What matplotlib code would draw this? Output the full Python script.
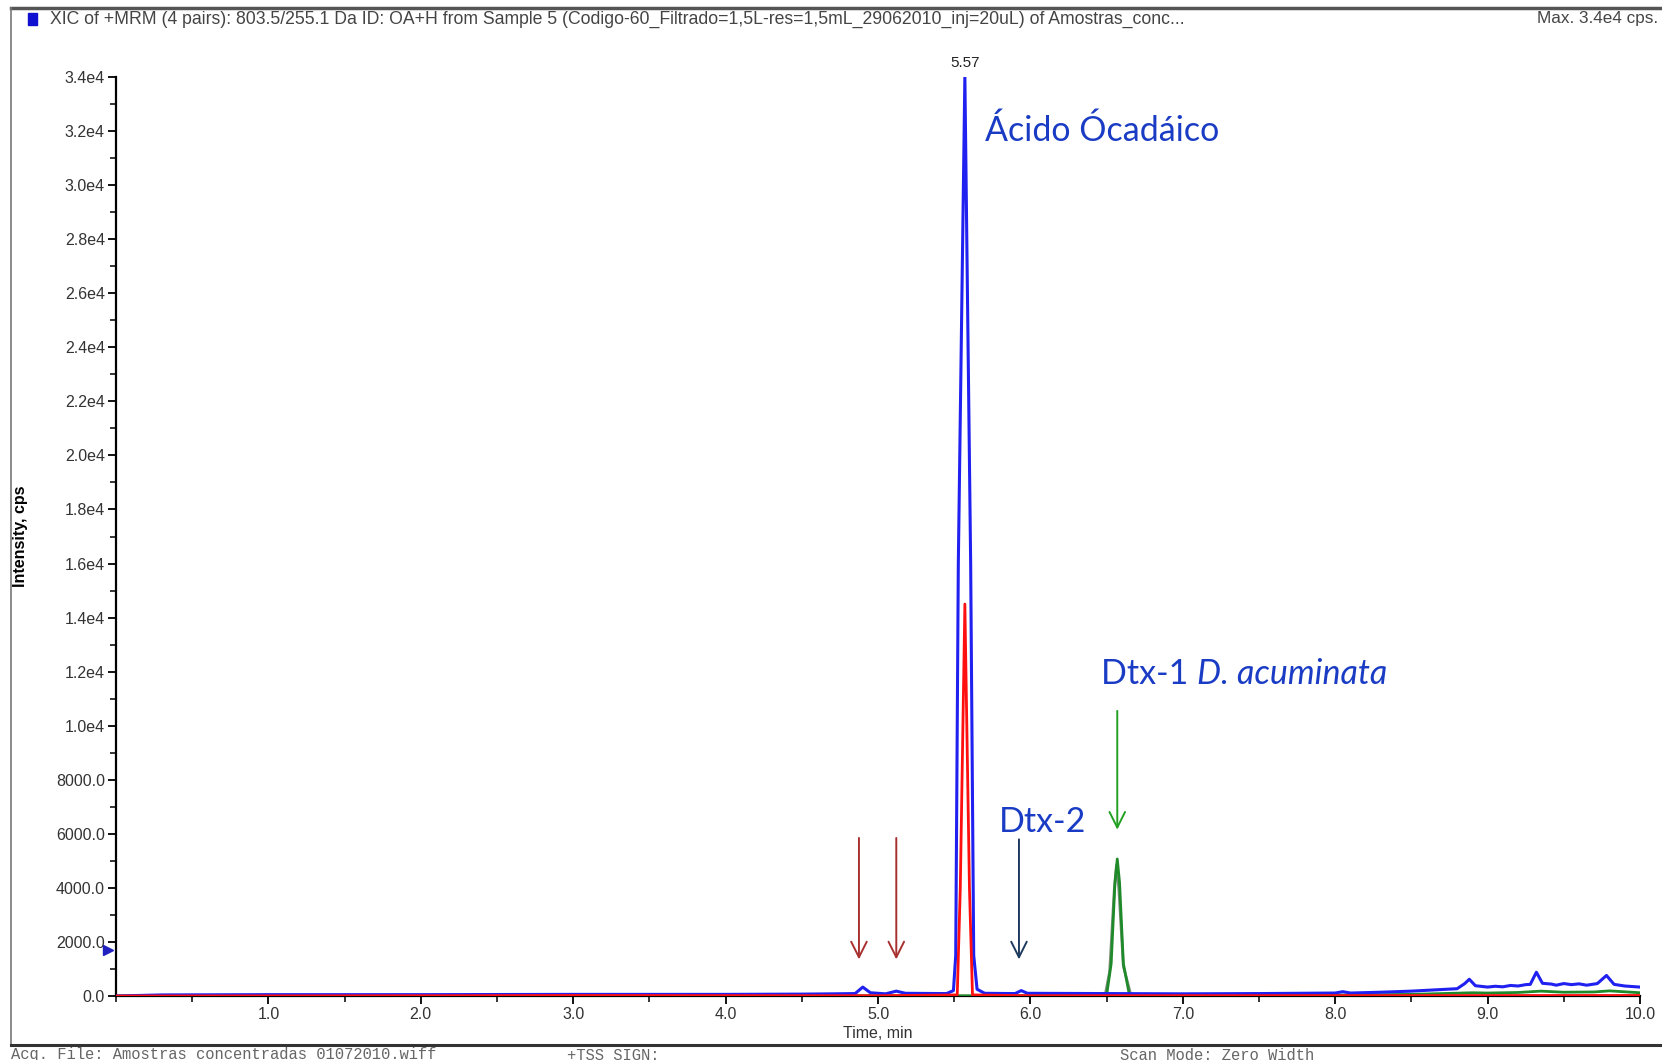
import matplotlib.pyplot as plt
from matplotlib.lines import Line2D
from matplotlib.ticker import MultipleLocator

plt.rcParams['font.family'] = ['Liberation Sans', 'DejaVu Sans']

# XIC traces (time in min, intensity in cps)
blue_t = [0.0, 0.3, 1.0, 2.0, 3.0, 4.0, 4.5, 4.7, 4.85, 4.9, 4.95, 5.05, 5.12, 5.18,
          5.45, 5.495, 5.51, 5.527, 5.57, 5.608, 5.628, 5.65, 5.70, 5.90, 5.94, 5.98,
          6.5, 7.0, 7.5, 8.0, 8.05, 8.1, 8.3, 8.5, 8.6, 8.7, 8.8, 8.85, 8.88, 8.92,
          9.0, 9.05, 9.1, 9.15, 9.2, 9.25, 9.28, 9.32, 9.36, 9.42, 9.45, 9.5, 9.55,
          9.6, 9.65, 9.72, 9.78, 9.83, 9.9, 9.95, 10.0]
blue_i = [0, 40, 50, 50, 60, 60, 70, 80, 90, 330, 120, 80, 180, 100,
          90, 200, 1500, 16000, 34000, 16000, 1500, 250, 100, 90, 200, 100,
          90, 80, 90, 110, 160, 110, 140, 180, 210, 240, 270, 460, 620, 380,
          330, 360, 340, 390, 370, 420, 430, 880, 470, 440, 400, 460, 420,
          450, 400, 460, 760, 430, 370, 350, 330]

red_t = [0.0, 2.0, 3.0, 5.0, 5.52, 5.54, 5.57, 5.60, 5.62, 6.0, 10.0]
red_i = [0, 10, 20, 10, 40, 4000, 14500, 4000, 40, 10, 20]

green_t = [0.0, 6.0, 6.50, 6.53, 6.555, 6.57, 6.585, 6.61, 6.65, 7.0, 8.0, 8.5, 8.9,
           9.0, 9.2, 9.35, 9.5, 9.7, 9.8, 10.0]
green_i = [0, 10, 30, 1200, 4200, 5070, 4200, 1200, 30, 20, 30, 60, 120,
           110, 130, 180, 140, 150, 190, 120]

grey_t = [6.49, 6.52, 6.55, 6.565, 6.58, 6.61, 6.66]
grey_i = [20, 900, 3900, 4850, 4000, 1100, 20]

# annotation labels and arrow positions
oa_label = 'Ácido Ócadáico'
apex_time = 5.57
red_arrow_t = [4.875, 5.12]
dtx2_arrow_t = 5.925
dtx1_arrow_t = 6.57

fig = plt.figure(figsize=(16.62, 10.6), dpi=100)
ax = fig.add_axes([116 / 1662, 1 - 996 / 1060, (1640 - 116) / 1662, (996 - 77) / 1060])

ax.plot(grey_t, grey_i, color='#7a8f7a', lw=2.0, zorder=2)
ax.plot(green_t, green_i, color='#1f8a2a', lw=2.0, zorder=3)
ax.plot(blue_t, blue_i, color='#2020f0', lw=2.2, zorder=4)
ax.plot(red_t, red_i, color='#ff1010', lw=2.0, zorder=5)

ax.set_xlim(0, 10)
ax.set_ylim(0, 34000)
for s in ['top', 'right']:
    ax.spines[s].set_visible(False)
ax.spines['left'].set_linewidth(1.6)
ax.spines['bottom'].set_linewidth(1.6)

ax.xaxis.set_minor_locator(MultipleLocator(0.5))
ax.yaxis.set_minor_locator(MultipleLocator(1000))

def yfmt(v):
    if v >= 10000:
        return f'{v / 1e4:.1f}e4'
    return f'{v:.1f}'

yt = list(range(0, 34001, 2000))
ax.set_yticks(yt)
ax.set_yticklabels([yfmt(v) for v in yt])
ax.set_xticks([1, 2, 3, 4, 5, 6, 7, 8, 9, 10])
ax.set_xticklabels([f'{v:.1f}' for v in range(1, 11)])
ax.tick_params(axis='both', which='major', length=6, width=1.3, labelsize=11.5,
               labelcolor='#333333', pad=2)
ax.tick_params(axis='both', which='minor', length=4, width=1.1)
ax.patch.set_alpha(0)

ax.set_xlabel('Time, min', fontsize=11.5, color='#333333', labelpad=3)
ax.set_ylabel('Intensity, cps', fontsize=11.5, fontweight='bold', labelpad=0)
ax.yaxis.set_label_coords(-0.058, 0.5)

# retention time of the main peak
ax.text(apex_time, 34250, '5.57', ha='center', va='bottom', fontsize=11, color='#222222')
ax.plot([-0.05], [1700], marker='>', color='#2020c0', markersize=7, clip_on=False)

# labels
lbl = dict(color='#1a3cc4', family='Lato', fontsize=24.5)
ax.text(5.70, 32000, oa_label, ha='left', va='center', **lbl)
t1 = ax.text(6.46, 11900, 'Dtx-1 ', ha='left', va='center', **lbl)
ax.annotate('D. acuminata', xy=(1, 0), xycoords=t1, ha='left', va='bottom',
            style='italic', **lbl)
ax.text(5.79, 6450, 'Dtx-2', ha='left', va='center', **lbl)

aprops = dict(arrowstyle='->', mutation_scale=28, lw=1.4)
for t in red_arrow_t:
    ax.annotate('', xy=(t, 1250), xytext=(t, 5950),
                arrowprops=dict(color='#a83030', **aprops))
ax.annotate('', xy=(dtx2_arrow_t, 1250), xytext=(dtx2_arrow_t, 5900),
            arrowprops=dict(color='#1f3a5f', **aprops))
ax.annotate('', xy=(dtx1_arrow_t, 6050), xytext=(dtx1_arrow_t, 10650),
            arrowprops=dict(color='#22a022', **aprops))

# window frame, header and footer
fig.add_artist(Line2D([11 / 1662, 1], [1 - 7.5 / 1060] * 2, color='#555555', lw=2.5))
fig.add_artist(Line2D([11 / 1662] * 2, [1 - 7.5 / 1060, 1 - 1045 / 1060], color='#777777', lw=1.2))
fig.add_artist(Line2D([11 / 1662, 1], [1 - 1045 / 1060] * 2, color='#333333', lw=2.2))

fig.patches.append(plt.Rectangle((28 / 1662, 1 - 25 / 1060), 9 / 1662, 12 / 1060,
                                 transform=fig.transFigure, color='#1010d0'))
fig.text(50 / 1662, 1 - 19 / 1060,
         'XIC of +MRM (4 pairs): 803.5/255.1 Da ID: OA+H from Sample 5 '
         '(Codigo-60_Filtrado=1,5L-res=1,5mL_29062010_inj=20uL) of Amostras_conc...',
         ha='left', va='center', fontsize=12.7, color='#444444')
fig.text(1658 / 1662, 1 - 19 / 1060, 'Max. 3.4e4 cps.', ha='right', va='center',
         fontsize=12.3, color='#444444')

foot = dict(family='Liberation Mono', fontsize=11.2, color='#666666', va='center')
fig.text(11 / 1662, 1 - 1055 / 1060, 'Acq. File: Amostras_concentradas_01072010.wiff', ha='left', **foot)
fig.text(567 / 1662, 1 - 1055 / 1060, '+TSS SIGN:', ha='left', **foot)
fig.text(1120 / 1662, 1 - 1055 / 1060, 'Scan Mode: Zero Width', ha='left', **foot)

fig.savefig('out.png', dpi=100)
